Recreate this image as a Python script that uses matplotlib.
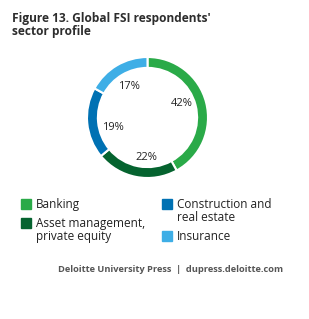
import numpy as np
import matplotlib.pyplot as plt
from matplotlib.patches import Rectangle

# data
sectors = ["Banking", "Asset management,\nprivate equity",
           "Construction and\nreal estate", "Insurance"]
shares = [42, 22, 19, 17]
colors = ["#2aaa48", "#05632f", "#0071b3", "#3eaee6"]

plt.rcParams["font.family"] = ["Open Sans", "DejaVu Sans"]

W, H = 309, 319
fig = plt.figure(figsize=(W / 100, H / 100), dpi=100)

# donut
cx, cy, r = 147.5, 117.5, 60.5
ax = fig.add_axes([(cx - r) / W, (H - cy - r) / H, 2 * r / W, 2 * r / H])
wedges, _ = ax.pie(shares, colors=colors, startangle=90, counterclock=False,
                   radius=1, wedgeprops=dict(width=0.18, edgecolor="white", linewidth=1.5))
ax.set_xlim(-1, 1)
ax.set_ylim(-1, 1)
ax.set_aspect("equal")
ax.axis("off")

# labels are nudged off the exact wedge middle, as in the original
nudge = [8, 9, 10, 0]      # degrees
rad = [0.62, 0.66, 0.6, 0.6]
start = 90
for v, dn, rr in zip(shares, nudge, rad):
    mid = np.deg2rad(start - v / 100 * 360 / 2 + dn)
    ax.text(rr * np.cos(mid), rr * np.sin(mid), f"{v}%", ha="center", va="center",
            fontsize=8, color="#222222")
    start -= v / 100 * 360

# title
fig.text(12 / W, 1 - 22 / H, "Figure 13. Global FSI respondents'",
         ha="left", va="baseline", fontsize=8.6, fontweight="bold", color="#2d2d2d")
fig.text(12 / W, 1 - 35 / H, "sector profile",
         ha="left", va="baseline", fontsize=8.6, fontweight="bold", color="#2d2d2d")

# legend
legend_pos = [(21, 204), (21, 223), (162, 204), (162, 236)]
for (x, y), lab, c in zip(legend_pos, sectors, colors):
    fig.patches.append(Rectangle((x / W, 1 - (y + 5) / H), 10 / W, 10 / H,
                                 transform=fig.transFigure, color=c))
    fig.text((x + 15) / W, 1 - (y - 6) / H, lab, ha="left", va="top",
             fontsize=8.5, color="#222222", linespacing=1.0)

# footer
fig.text(171 / W, 1 - 269 / H, "Deloitte University Press  |  dupress.deloitte.com",
         ha="center", va="center", fontsize=6.7, fontweight="bold", color="#555555")

fig.savefig("out.png", dpi=100)
